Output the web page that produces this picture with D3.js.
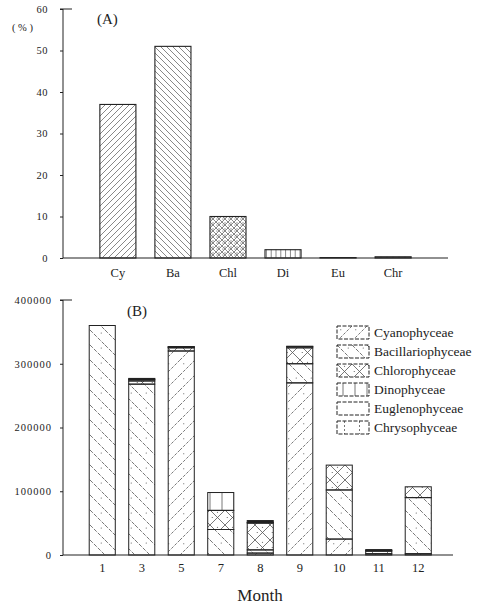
<!DOCTYPE html>
<html>
<head>
<meta charset="utf-8">
<script src="https://cdn.jsdelivr.net/npm/d3@7"></script>
<style>
  body { margin: 0; background: #fff; }
  svg { display: block; font-family: "Liberation Serif", "DejaVu Serif", serif; }
</style>
</head>
<body>
<div id="chart"></div>
<script>
// panel A: share of each class (%)
const classesA = ['Cy', 'Ba', 'Chl', 'Di', 'Eu', 'Chr'];
const percentA = [37, 51, 10, 2, 0.1, 0.3];
const ticksA = [0, 10, 20, 30, 40, 50, 60];

// panel B: cells by month, stacked
const months = ['1', '3', '5', '7', '8', '9', '10', '11', '12'];
const groups = ['Cyanophyceae', 'Bacillariophyceae', 'Chlorophyceae', 'Dinophyceae', 'Euglenophyceae', 'Chrysophyceae'];
const cyano  = [0, 0, 320000, 0, 3000, 270000, 25000, 2000, 2000];
const bacil  = [360000, 268000, 0, 40000, 5000, 30000, 77000, 4000, 88000];
const chloro = [0, 5000, 5000, 30000, 42000, 25000, 39000, 1000, 17000];
const dino   = [0, 2000, 1000, 28000, 1000, 2000, 0, 0, 0];
const eugl   = [0, 1000, 500, 0, 3000, 0, 0, 1500, 0];
const chryso = [0, 1000, 500, 0, 0, 500, 0, 0, 0];
const ticksB = [0, 100000, 200000, 300000, 400000];

const W = 483, H = 607;
const svg = d3.select('#chart').append('svg').attr('width', W).attr('height', H);
const defs = svg.append('defs');
const ink = '#222';
const hatch = '#555';

// hatch patterns, tile size s; dashed lines only on the big tiles
function makePatterns(prefix, s, sw, dashed) {
  const p = (id, w, h) => defs.append('pattern').attr('id', prefix + id)
    .attr('patternUnits', 'userSpaceOnUse').attr('width', w).attr('height', h);
  const ln = (g, x1, y1, x2, y2, dash) => g.append('line')
    .attr('x1', x1).attr('y1', y1).attr('x2', x2).attr('y2', y2)
    .attr('stroke', hatch).attr('stroke-width', sw).attr('stroke-dasharray', dashed && dash ? dash : null);
  const dot = (g, x, y) => g.append('circle').attr('cx', x).attr('cy', y).attr('r', 0.6).attr('fill', hatch);

  let g = p('cy', s, s);
  ln(g, 0, s, s, 0, '3,1.5'); ln(g, -1, 1, 1, -1); ln(g, s - 1, s + 1, s + 1, s - 1);
  if (dashed) dot(g, s * 0.25, s * 0.25);
  g = p('ba', s, s);
  ln(g, 0, 0, s, s, '4,1.5'); ln(g, -1, s - 1, 1, s + 1); ln(g, s - 1, -1, s + 1, 1);
  if (dashed) dot(g, s * 0.75, s * 0.2);
  g = p('chl', s, s);
  ln(g, 0, 0, s, s); ln(g, 0, s, s, 0);
  dot(g, s / 2, s * 0.15); dot(g, s * 0.15, s / 2);
  g = p('di', s * 0.8, s);
  ln(g, s * 0.4, 0, s * 0.4, s);
  g = p('eu', s, s);
  dot(g, s / 2, s / 2);
  g = p('chr', s, s);
  ln(g, s / 2, 0, s / 2, s, '2,2');
}
makePatterns('a-', 6, 0.7, false);
makePatterns('b-', 15, 0.8, true);
const keys = ['cy', 'ba', 'chl', 'di', 'eu', 'chr'];

// ---------- panel A ----------
const xA = d3.scaleBand().domain(classesA).range([90.5, 420.5]).paddingInner(0.345).paddingOuter(0.17);
const yA = d3.scaleLinear().domain([0, 60]).range([258, 9]);
const gA = svg.append('g');

gA.append('g').attr('transform', 'translate(63,0)')
  .call(d3.axisLeft(yA).tickValues(ticksA).tickSize(3).tickPadding(12))
  .call(g => g.select('.domain').attr('stroke', ink).attr('d', `M-3,${yA(60)}H0V${yA(0)}`))
  .call(g => g.selectAll('.tick line').attr('stroke', ink))
  .call(g => g.selectAll('text').attr('font-size', 10.5).attr('font-family', 'Liberation Serif').attr('fill', ink).attr('letter-spacing', 0.5));
gA.append('line').attr('x1', 63).attr('x2', 72).attr('y1', yA(60)).attr('y2', yA(60)).attr('stroke', ink);
gA.append('line').attr('x1', 63).attr('x2', 448).attr('y1', yA(0)).attr('y2', yA(0)).attr('stroke', ink).attr('stroke-width', 1.2);

gA.selectAll('rect.bar').data(percentA).join('rect')
  .attr('class', 'bar')
  .attr('x', (d, i) => xA(classesA[i]))
  .attr('width', xA.bandwidth())
  .attr('y', d => yA(d))
  .attr('height', d => yA(0) - yA(d))
  .attr('fill', (d, i) => `url(#a-${keys[i]})`)
  .attr('stroke', ink).attr('stroke-width', 1.1);

gA.selectAll('text.cat').data(classesA).join('text')
  .attr('class', 'cat')
  .attr('x', d => xA(d) + xA.bandwidth() / 2)
  .attr('y', 277).attr('text-anchor', 'middle').attr('font-size', 12.5).attr('fill', ink)
  .text(d => d);

gA.append('text').attr('x', 97).attr('y', 24).attr('font-size', 15).attr('fill', ink).text('(A)');
gA.append('text').attr('x', 12).attr('y', 31).attr('font-size', 10.5).attr('fill', ink).text('( % )');

// ---------- panel B ----------
const xB = d3.scaleBand().domain(months).range([82.5, 438]).paddingInner(0.34).paddingOuter(0.17);
const yB = d3.scaleLinear().domain([0, 400000]).range([555, 300]);
const gB = svg.append('g');

const table = months.map((m, i) => ({
  month: m,
  Cyanophyceae: cyano[i], Bacillariophyceae: bacil[i], Chlorophyceae: chloro[i],
  Dinophyceae: dino[i], Euglenophyceae: eugl[i], Chrysophyceae: chryso[i]
}));
const series = d3.stack().keys(groups)(table);

gB.append('g').attr('transform', 'translate(63,0)')
  .call(d3.axisLeft(yB).tickValues(ticksB).tickFormat(d3.format('d')).tickSize(3).tickPadding(8))
  .call(g => g.select('.domain').attr('stroke', ink).attr('d', `M-3,${yB(400000)}H0V${yB(0)}`))
  .call(g => g.selectAll('.tick line').attr('stroke', ink))
  .call(g => g.selectAll('text').attr('font-size', 10.5).attr('font-family', 'Liberation Serif').attr('fill', ink).attr('letter-spacing', 1));
gB.append('line').attr('x1', 63).attr('x2', 72).attr('y1', yB(400000)).attr('y2', yB(400000)).attr('stroke', ink);
gB.append('line').attr('x1', 63).attr('x2', 453).attr('y1', yB(0)).attr('y2', yB(0)).attr('stroke', ink).attr('stroke-width', 1.2);

series.forEach((s, k) => {
  gB.append('g').selectAll('rect').data(s.filter(d => d[1] - d[0] > 0)).join('rect')
    .attr('x', d => xB(d.data.month))
    .attr('width', xB.bandwidth())
    .attr('y', d => yB(d[1]))
    .attr('height', d => yB(d[0]) - yB(d[1]))
    .attr('fill', k === 4 ? ink : `url(#b-${keys[k]})`)
    .attr('stroke', ink).attr('stroke-width', 1);
});

gB.selectAll('text.month').data(months).join('text')
  .attr('class', 'month')
  .attr('x', d => xB(d) + xB.bandwidth() / 2)
  .attr('y', 572).attr('text-anchor', 'middle').attr('font-size', 12.5).attr('fill', ink)
  .text(d => d);

gB.append('text').attr('x', 127).attr('y', 316).attr('font-size', 15).attr('fill', ink).text('(B)');
gB.append('text').attr('x', 260).attr('y', 601).attr('text-anchor', 'middle').attr('font-size', 17).attr('fill', ink).text('Month');

// legend
const leg = gB.append('g').attr('transform', 'translate(337,326)');
groups.forEach((name, k) => {
  const row = leg.append('g').attr('transform', `translate(0,${k * 19})`);
  row.append('rect').attr('width', 32).attr('height', 13)
    .attr('fill', k === 4 ? '#fff' : `url(#b-${keys[k]})`)
    .attr('stroke', ink).attr('stroke-width', 1).attr('stroke-dasharray', '4,1.5');
  row.append('text').attr('x', 37).attr('y', 11).attr('font-size', 13.5).attr('fill', ink).text(name);
});
</script>
</body>
</html>
